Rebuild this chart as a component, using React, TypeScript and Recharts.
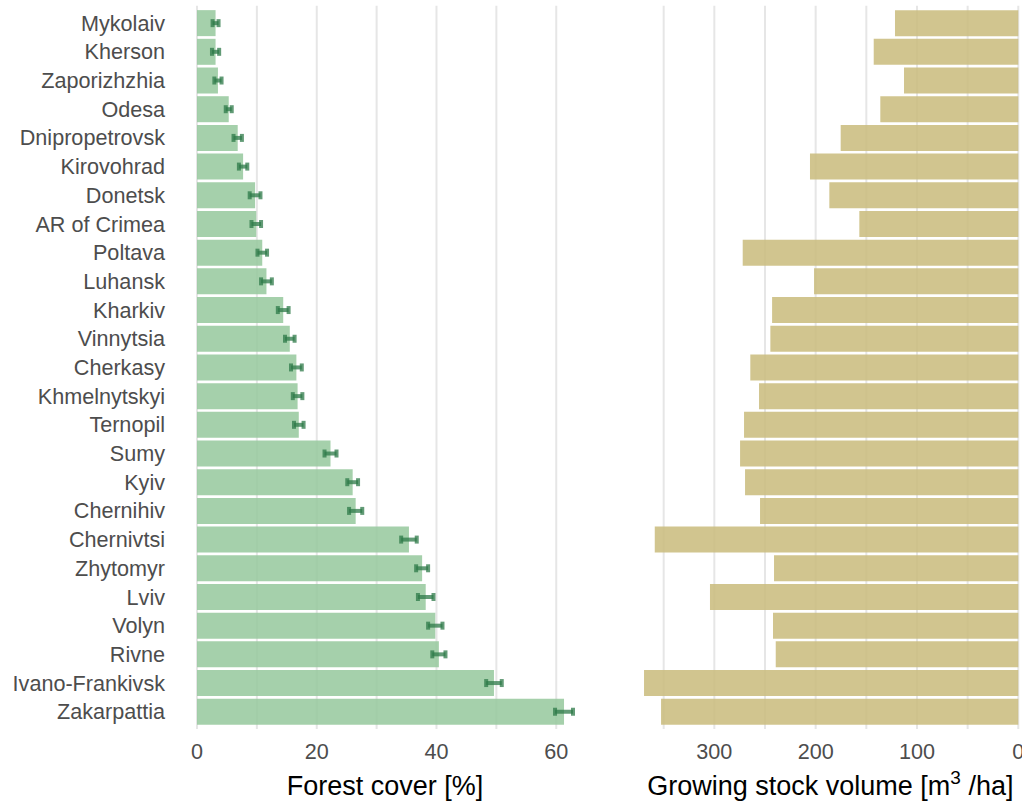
import { BarChart, Bar, XAxis, YAxis, CartesianGrid, ErrorBar } from "recharts"

const regions = [
    "Mykolaiv", "Kherson", "Zaporizhzhia", "Odesa", "Dnipropetrovsk", "Kirovohrad", "Donetsk",
    "AR of Crimea", "Poltava", "Luhansk", "Kharkiv", "Vinnytsia", "Cherkasy", "Khmelnytskyi",
    "Ternopil", "Sumy", "Kyiv", "Chernihiv", "Chernivtsi", "Zhytomyr", "Lviv", "Volyn", "Rivne",
    "Ivano-Frankivsk", "Zakarpattia",
]

// forest cover [%] and its +/- error
const forestCover = [3.1, 3.1, 3.5, 5.3, 6.8, 7.7, 9.7, 9.9, 10.9, 11.6, 14.4, 15.5, 16.6, 16.8, 17.0, 22.3, 26.0, 26.5, 35.4, 37.6, 38.2, 39.8, 40.4, 49.6, 61.3]
const forestCoverErr = [0.5, 0.6, 0.6, 0.5, 0.7, 0.7, 0.9, 0.8, 0.8, 0.9, 0.9, 0.8, 0.9, 0.8, 0.8, 1.0, 0.9, 1.1, 1.3, 1.0, 1.3, 1.2, 1.1, 1.3, 1.5]

// growing stock volume [m3/ha]
const growingStock = [121.7, 142.7, 112.8, 136.2, 175.3, 205.6, 186.5, 156.9, 272.0, 201.6, 243.0, 244.7, 264.5, 255.9, 270.7, 274.6, 269.7, 254.9, 358.8, 241.1, 304.3, 242.1, 239.4, 369.4, 352.6]

const coverTicks = [0, 10, 20, 30, 40, 50, 60]
const coverLabels = [0, 20, 40, 60]
const stockTicks = [0, 50, 100, 150, 200, 250, 300, 350]
const stockLabels = [0, 100, 200, 300]

const data = regions.map((name, i) => ({
    name,
    cover: forestCover[i],
    coverErr: forestCoverErr[i],
    stock: growingStock[i],
}))

const FONT = "'Liberation Sans', Arial, sans-serif"
const tickStyle = { fontSize: 21.6, fill: "#4d4d4d", fontFamily: FONT }
const gridColor = "#e6e6e6"
const yPad = { top: 2.9, bottom: 2.9 }

function AxisTitle(props: any) {
    const vb = props.viewBox || {}
    const cx = (vb.x ?? 0) + (vb.width ?? 0) / 2
    return (
        <text x={cx} y={795} textAnchor="middle" fontSize={27} fill="#000" fontFamily={FONT}>
            {props.sup ? (
                <>
                    Growing stock volume [m
                    <tspan dy={-11} fontSize={19}>3</tspan>
                    <tspan dy={11}> /ha]</tspan>
                </>
            ) : (
                props.text
            )}
        </text>
    )
}

export default function App() {
    return (
        <div style={{ position: "absolute", left: 0, top: 0, width: 1022, height: 801, overflow: "hidden", background: "#fff", fontFamily: FONT }}>
            <div style={{ position: "absolute", left: 0, top: 0 }}>
                <BarChart
                    width={600}
                    height={801}
                    data={data}
                    layout="vertical"
                    barCategoryGap="5%"
                    margin={{ top: 5.8, right: 27, bottom: 0, left: 0 }}
                >
                    <CartesianGrid horizontal={false} syncWithTicks stroke={gridColor} strokeWidth={2} />
                    <XAxis
                        type="number"
                        domain={[0, 62.7]}
                        ticks={coverTicks}
                        tickFormatter={(v: number) => (coverLabels.includes(v) ? String(v) : "")}
                        axisLine={false}
                        tickLine={false}
                        tickSize={0}
                        tickMargin={15}
                        height={72.1}
                        tick={tickStyle}
                        label={<AxisTitle text="Forest cover [%]" />}
                    />
                    <YAxis
                        type="category"
                        dataKey="name"
                        width={197}
                        axisLine={false}
                        tickLine={false}
                        tickSize={0}
                        tickMargin={32}
                        padding={yPad}
                        interval={0}
                        tick={tickStyle}
                    />
                    <Bar dataKey="cover" fill="rgb(149,200,156)" fillOpacity={0.85} isAnimationActive={false}>
                        <ErrorBar
                            dataKey="coverErr"
                            direction="x"
                            width={4}
                            stroke="#2d7a48"
                            strokeOpacity={0.75}
                            strokeWidth={4}
                            isAnimationActive={false}
                        />
                    </Bar>
                </BarChart>
            </div>
            <div style={{ position: "absolute", left: 620, top: 0 }}>
                <BarChart
                    width={420}
                    height={801}
                    data={data}
                    layout="vertical"
                    barCategoryGap="5%"
                    margin={{ top: 5.8, right: 21.7, bottom: 0, left: 22.4 }}
                >
                    <CartesianGrid horizontal={false} syncWithTicks stroke={gridColor} strokeWidth={2} />
                    <XAxis
                        type="number"
                        reversed
                        domain={[0, 371]}
                        ticks={stockTicks}
                        tickFormatter={(v: number) => (stockLabels.includes(v) ? String(v) : "")}
                        axisLine={false}
                        tickLine={false}
                        tickSize={0}
                        tickMargin={15}
                        height={72.1}
                        tick={tickStyle}
                        label={<AxisTitle sup />}
                    />
                    <YAxis type="category" dataKey="name" hide padding={yPad} />
                    <Bar dataKey="stock" fill="rgb(201,187,123)" fillOpacity={0.85} isAnimationActive={false} />
                </BarChart>
            </div>
        </div>
    )
}
